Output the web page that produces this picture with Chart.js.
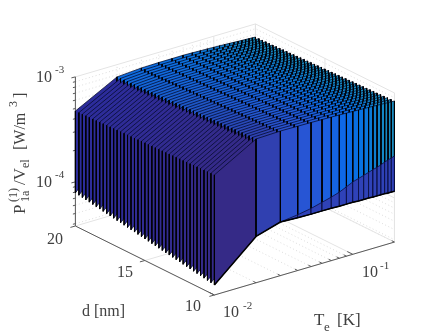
<!DOCTYPE html>
<html>
<head>
<meta charset="utf-8">
<script src="https://cdn.jsdelivr.net/npm/chart.js@4"></script>
<style>
body { margin: 0; background: #fff; overflow: hidden; }
</style>
</head>
<body>
<canvas id="surfaceChart" width="436" height="335"></canvas>
<script>
// Values
const temps = [0.01, 0.02, 0.03, 0.04, 0.05, 0.06, 0.07, 0.08, 0.09, 0.10, 0.11, 0.12, 0.13, 0.14, 0.15, 0.16, 0.17, 0.18, 0.19, 0.20];
const thickness = [10, 10.25, 10.5, 10.75, 11, 11.25, 11.5, 11.75, 12, 12.25, 12.5, 12.75, 13, 13.25, 13.5, 13.75, 14, 14.25, 14.5, 14.75, 15, 15.25, 15.5, 15.75, 16, 16.25, 16.5, 16.75, 17, 17.25, 17.5, 17.75, 18, 18.25, 18.5, 18.75, 19, 19.25, 19.5, 19.75, 20];

// upper edge of each sheet, one row per thickness, in units of 1e-4 W/m3
const upperRows = [
    [5.29, 8.90, 9.05, 9.00, 8.95, 8.90, 8.85, 8.80, 8.76, 8.72, 8.68, 8.64, 8.60, 8.56, 8.52, 8.49, 8.46, 8.43, 8.40, 8.38],
    [5.28, 8.87, 9.02, 8.98, 8.93, 8.88, 8.83, 8.78, 8.74, 8.70, 8.66, 8.62, 8.58, 8.54, 8.50, 8.47, 8.44, 8.41, 8.38, 8.36],
    [5.26, 8.84, 8.99, 8.95, 8.90, 8.86, 8.81, 8.76, 8.72, 8.68, 8.64, 8.60, 8.56, 8.52, 8.48, 8.45, 8.42, 8.39, 8.36, 8.34],
    [5.25, 8.81, 8.97, 8.93, 8.88, 8.83, 8.78, 8.73, 8.69, 8.65, 8.61, 8.57, 8.53, 8.49, 8.45, 8.42, 8.39, 8.36, 8.33, 8.31],
    [5.23, 8.77, 8.94, 8.90, 8.85, 8.81, 8.76, 8.71, 8.67, 8.63, 8.59, 8.55, 8.51, 8.47, 8.43, 8.40, 8.37, 8.34, 8.31, 8.29],
    [5.22, 8.74, 8.91, 8.88, 8.83, 8.79, 8.74, 8.69, 8.65, 8.61, 8.57, 8.53, 8.49, 8.45, 8.41, 8.38, 8.35, 8.32, 8.29, 8.27],
    [5.21, 8.71, 8.88, 8.85, 8.81, 8.77, 8.72, 8.67, 8.63, 8.59, 8.55, 8.51, 8.47, 8.43, 8.39, 8.36, 8.33, 8.30, 8.27, 8.25],
    [5.19, 8.68, 8.86, 8.83, 8.78, 8.75, 8.70, 8.65, 8.61, 8.57, 8.53, 8.49, 8.45, 8.41, 8.37, 8.34, 8.31, 8.28, 8.25, 8.23],
    [5.18, 8.65, 8.83, 8.80, 8.76, 8.72, 8.67, 8.62, 8.58, 8.54, 8.50, 8.46, 8.42, 8.38, 8.34, 8.31, 8.28, 8.25, 8.22, 8.20],
    [5.16, 8.62, 8.80, 8.78, 8.74, 8.70, 8.65, 8.60, 8.56, 8.52, 8.48, 8.44, 8.40, 8.36, 8.32, 8.29, 8.26, 8.23, 8.20, 8.18],
    [5.15, 8.59, 8.77, 8.75, 8.71, 8.68, 8.63, 8.58, 8.54, 8.50, 8.46, 8.42, 8.38, 8.34, 8.30, 8.27, 8.24, 8.21, 8.18, 8.16],
    [5.14, 8.55, 8.74, 8.73, 8.69, 8.66, 8.61, 8.56, 8.52, 8.48, 8.44, 8.40, 8.36, 8.32, 8.28, 8.25, 8.22, 8.19, 8.16, 8.14],
    [5.12, 8.52, 8.72, 8.70, 8.66, 8.64, 8.59, 8.54, 8.50, 8.46, 8.42, 8.38, 8.34, 8.30, 8.26, 8.23, 8.20, 8.17, 8.14, 8.12],
    [5.11, 8.49, 8.69, 8.68, 8.64, 8.61, 8.56, 8.51, 8.47, 8.43, 8.39, 8.35, 8.31, 8.27, 8.23, 8.20, 8.17, 8.14, 8.11, 8.09],
    [5.09, 8.46, 8.66, 8.65, 8.62, 8.59, 8.54, 8.49, 8.45, 8.41, 8.37, 8.33, 8.29, 8.25, 8.21, 8.18, 8.15, 8.12, 8.09, 8.07],
    [5.08, 8.43, 8.63, 8.63, 8.59, 8.57, 8.52, 8.47, 8.43, 8.39, 8.35, 8.31, 8.27, 8.23, 8.19, 8.16, 8.13, 8.10, 8.07, 8.05],
    [5.07, 8.40, 8.60, 8.60, 8.57, 8.55, 8.50, 8.45, 8.41, 8.37, 8.33, 8.29, 8.25, 8.21, 8.17, 8.14, 8.11, 8.08, 8.05, 8.03],
    [5.05, 8.36, 8.58, 8.58, 8.55, 8.53, 8.48, 8.43, 8.39, 8.35, 8.31, 8.27, 8.23, 8.19, 8.15, 8.12, 8.09, 8.06, 8.03, 8.01],
    [5.04, 8.33, 8.55, 8.55, 8.52, 8.50, 8.45, 8.40, 8.36, 8.32, 8.28, 8.24, 8.20, 8.16, 8.12, 8.09, 8.06, 8.03, 8.00, 7.98],
    [5.02, 8.30, 8.52, 8.53, 8.50, 8.48, 8.43, 8.38, 8.34, 8.30, 8.26, 8.22, 8.18, 8.14, 8.10, 8.07, 8.04, 8.01, 7.98, 7.96],
    [5.01, 8.27, 8.49, 8.50, 8.47, 8.46, 8.41, 8.36, 8.32, 8.28, 8.24, 8.20, 8.16, 8.12, 8.08, 8.05, 8.02, 7.99, 7.96, 7.94],
    [5.00, 8.24, 8.47, 8.48, 8.45, 8.44, 8.39, 8.34, 8.30, 8.26, 8.22, 8.18, 8.14, 8.10, 8.06, 8.03, 8.00, 7.97, 7.94, 7.92],
    [4.98, 8.21, 8.44, 8.45, 8.43, 8.42, 8.37, 8.32, 8.28, 8.24, 8.20, 8.16, 8.12, 8.08, 8.04, 8.01, 7.98, 7.95, 7.92, 7.90],
    [4.97, 8.18, 8.41, 8.43, 8.40, 8.39, 8.34, 8.29, 8.25, 8.21, 8.17, 8.13, 8.09, 8.05, 8.01, 7.98, 7.95, 7.92, 7.89, 7.87],
    [4.95, 8.14, 8.38, 8.40, 8.38, 8.37, 8.32, 8.27, 8.23, 8.19, 8.15, 8.11, 8.07, 8.03, 7.99, 7.96, 7.93, 7.90, 7.87, 7.85],
    [4.94, 8.11, 8.35, 8.38, 8.36, 8.35, 8.30, 8.25, 8.21, 8.17, 8.13, 8.09, 8.05, 8.01, 7.97, 7.94, 7.91, 7.88, 7.85, 7.83],
    [4.93, 8.08, 8.33, 8.35, 8.33, 8.33, 8.28, 8.23, 8.19, 8.15, 8.11, 8.07, 8.03, 7.99, 7.95, 7.92, 7.89, 7.86, 7.83, 7.81],
    [4.91, 8.05, 8.30, 8.33, 8.31, 8.31, 8.26, 8.21, 8.17, 8.13, 8.09, 8.05, 8.01, 7.97, 7.93, 7.90, 7.87, 7.84, 7.81, 7.79],
    [4.90, 8.02, 8.27, 8.30, 8.28, 8.28, 8.23, 8.18, 8.14, 8.10, 8.06, 8.02, 7.98, 7.94, 7.90, 7.87, 7.84, 7.81, 7.78, 7.76],
    [4.88, 7.99, 8.24, 8.28, 8.26, 8.26, 8.21, 8.16, 8.12, 8.08, 8.04, 8.00, 7.96, 7.92, 7.88, 7.85, 7.82, 7.79, 7.76, 7.74],
    [4.87, 7.96, 8.22, 8.25, 8.24, 8.24, 8.19, 8.14, 8.10, 8.06, 8.02, 7.98, 7.94, 7.90, 7.86, 7.83, 7.80, 7.77, 7.74, 7.72],
    [4.86, 7.92, 8.19, 8.23, 8.21, 8.22, 8.17, 8.12, 8.08, 8.04, 8.00, 7.96, 7.92, 7.88, 7.84, 7.81, 7.78, 7.75, 7.72, 7.70],
    [4.84, 7.89, 8.16, 8.20, 8.19, 8.20, 8.15, 8.10, 8.06, 8.02, 7.98, 7.94, 7.90, 7.86, 7.82, 7.79, 7.76, 7.73, 7.70, 7.68],
    [4.83, 7.86, 8.13, 8.18, 8.16, 8.17, 8.12, 8.07, 8.03, 7.99, 7.95, 7.91, 7.87, 7.83, 7.79, 7.76, 7.73, 7.70, 7.67, 7.65],
    [4.81, 7.83, 8.10, 8.15, 8.14, 8.15, 8.10, 8.05, 8.01, 7.97, 7.93, 7.89, 7.85, 7.81, 7.77, 7.74, 7.71, 7.68, 7.65, 7.63],
    [4.80, 7.80, 8.08, 8.13, 8.12, 8.13, 8.08, 8.03, 7.99, 7.95, 7.91, 7.87, 7.83, 7.79, 7.75, 7.72, 7.69, 7.66, 7.63, 7.61],
    [4.79, 7.77, 8.05, 8.10, 8.09, 8.11, 8.06, 8.01, 7.97, 7.93, 7.89, 7.85, 7.81, 7.77, 7.73, 7.70, 7.67, 7.64, 7.61, 7.59],
    [4.77, 7.73, 8.02, 8.08, 8.07, 8.09, 8.04, 7.99, 7.95, 7.91, 7.87, 7.83, 7.79, 7.75, 7.71, 7.68, 7.65, 7.62, 7.59, 7.57],
    [4.76, 7.70, 7.99, 8.05, 8.04, 8.06, 8.01, 7.96, 7.92, 7.88, 7.84, 7.80, 7.76, 7.72, 7.68, 7.65, 7.62, 7.59, 7.56, 7.54],
    [4.74, 7.67, 7.97, 8.03, 8.02, 8.04, 7.99, 7.94, 7.90, 7.86, 7.82, 7.78, 7.74, 7.70, 7.66, 7.63, 7.60, 7.57, 7.54, 7.52],
    [4.73, 7.64, 7.94, 8.00, 8.00, 8.02, 7.97, 7.92, 7.88, 7.84, 7.80, 7.76, 7.72, 7.68, 7.64, 7.61, 7.58, 7.55, 7.52, 7.50]
];

// lower edge per thickness at the two coldest temperatures, then along the rest
const lowerColdest = [0.473, 0.479, 0.485, 0.491, 0.498, 0.504, 0.510, 0.517, 0.523, 0.530, 0.537, 0.544, 0.551, 0.558, 0.565, 0.572, 0.579, 0.587, 0.594, 0.602, 0.609, 0.617, 0.625, 0.633, 0.641, 0.649, 0.657, 0.666, 0.674, 0.683, 0.691, 0.700, 0.709, 0.718, 0.727, 0.736, 0.746, 0.755, 0.765, 0.775, 0.785];
const lowerNext = [1.05, 1.07, 1.08, 1.10, 1.12, 1.13, 1.15, 1.17, 1.19, 1.21, 1.22, 1.24, 1.26, 1.28, 1.30, 1.32, 1.34, 1.36, 1.39, 1.41, 1.43, 1.45, 1.47, 1.50, 1.52, 1.54, 1.57, 1.59, 1.62, 1.64, 1.67, 1.69, 1.72, 1.75, 1.78, 1.80, 1.83, 1.86, 1.89, 1.92, 1.95];
const lowerRest = [1.23, 1.21, 1.20, 1.20, 1.20, 1.19, 1.19, 1.19, 1.18, 1.18, 1.18, 1.17, 1.17, 1.17, 1.17, 1.16, 1.16, 1.16];
// darker band on the front sheet, from 0.03 K upward
const frontBand = [1.23, 1.29, 1.36, 1.45, 1.53, 1.62, 1.74, 1.86, 1.93, 2.00, 2.07, 2.14, 2.19, 2.26, 2.34, 2.40, 2.45, 2.51];

// Axis ticks
const powerTicks = [4e-5, 5e-5, 6e-5, 7e-5, 8e-5, 9e-5, 1e-4, 2e-4, 3e-4, 4e-4, 5e-4, 6e-4, 7e-4, 8e-4, 9e-4, 1e-3];
const tempTicks = [0.01, 0.02, 0.03, 0.04, 0.05, 0.06, 0.07, 0.08, 0.09, 0.1, 0.2];
const thicknessTicks = [10, 15, 20];
const powerUnit = 1e-4;
const tMin = 0.01, tMax = 0.2, dMin = 10, dMax = 20, pMin = 3.8e-5, pMax = 1e-3;

// Colours per temperature step
const frontColors = ['#352a87', '#3040b0', '#2b50cc', '#2755d4', '#2358d8', '#1c5fdf', '#1564e3', '#0f68e6', '#0b6be6', '#096fe3', '#0873e0', '#0a77db', '#0c7bd5', '#0e7fd0', '#1083cb', '#1287c6', '#1589c4', '#188bc2', '#1c8dc0'];
const backColors = ['#2c2c9c', '#0e6cde', '#0e6ee0', '#0c70e0', '#0b72de', '#0b74dc', '#0b76d9', '#0c78d6', '#0d7ad3', '#0e7cd0', '#0f7ecd', '#107fca', '#1181c7', '#1283c4', '#1385c1', '#1487be', '#1589bb', '#168bb8', '#178db5'];
const bandColor = '#2f42b8';

// 3D view: log T, d and log P onto the flat x/y scales
function project(t, d, p) {
    const lt = Math.log10(t / tMin);
    const lp = Math.log10(p / pMin);
    return {
        x: 214.4 + 138.4 * lt - 13.9 * (d - dMin),
        y: 295 - 40.7 * lt - 6.9 * (d - dMin) - 105 * lp
    };
}

function mix(a, b, f) {
    const pa = parseInt(a.slice(1), 16), pb = parseInt(b.slice(1), 16);
    const ch = s => Math.round(((pa >> s) & 255) * (1 - f) + ((pb >> s) & 255) * f);
    return `rgb(${ch(16)},${ch(8)},${ch(0)})`;
}

const datasets = [];

function addLine(points, color, width, dash) {
    datasets.push({ data: points, borderColor: color, borderWidth: width, borderDash: dash || [], face: null });
}

function addQuad(points, face, color, width) {
    datasets.push({ data: points.concat([points[0]]), borderColor: color, borderWidth: width, face: face });
}

// Box walls and floor
const dotted = [1, 2.5];
powerTicks.forEach(p => {
    const solid = p === 1e-4 || p === 1e-3;
    const pts = [project(tMin, dMax, p), project(tMax, dMax, p), project(tMax, dMin, p)];
    addLine(pts, solid ? '#e4e4e4' : '#d4d4d4', solid ? 1 : 0.8, solid ? [] : dotted);
});
tempTicks.forEach(t => {
    const solid = t === 0.01 || t === 0.1;
    addLine([project(t, dMin, pMin), project(t, dMax, pMin), project(t, dMax, pMax)], solid ? '#e4e4e4' : '#d4d4d4', solid ? 1 : 0.8, solid ? [] : dotted);
});
[tMax].forEach(t => addLine([project(t, dMin, pMin), project(t, dMax, pMin), project(t, dMax, pMax)], '#e4e4e4', 1));
addLine([project(tMax, dMin, pMin), project(tMax, dMin, pMax)], '#e4e4e4', 1);
thicknessTicks.forEach(d => {
    addLine([project(tMin, d, pMin), project(tMax, d, pMin), project(tMax, d, pMax)], '#e4e4e4', 1);
});

// Axes with their ticks
const axisColor = '#5a5a5a';
addLine([project(tMin, dMax, pMin), project(tMin, dMax, pMax)], axisColor, 1);
addLine([project(tMin, dMax, pMin), project(tMin, dMin, pMin), project(tMax, dMin, pMin)], axisColor, 1);
powerTicks.forEach(p => {
    const long = p === 1e-4 || p === 1e-3;
    const a = project(tMin, dMax, p);
    addLine([a, { x: a.x - (long ? 4 : 2.5), y: a.y + (long ? 1 : 0.6) }], axisColor, 1);
});
tempTicks.forEach(t => {
    const long = t === 0.01 || t === 0.1;
    const a = project(t, dMin, pMin);
    const b = project(t, dMin + (long ? 0.4 : 0.2), pMin);
    addLine([a, b], axisColor, 1);
});
thicknessTicks.forEach(d => {
    const a = project(tMin, d, pMin);
    addLine([a, { x: a.x - 5, y: a.y + 1.4 }], axisColor, 1);
});

// Sheets from the back row to the front one, each hides what is behind it
for (let i = thickness.length - 1; i >= 0; i--) {
    const d = thickness[i];
    const f = i / (thickness.length - 1);
    const lower = j => (j === 0 ? lowerColdest[i] : j === 1 ? lowerNext[i] : lowerRest[j - 2]);
    for (let j = 0; j < temps.length - 1; j++) {
        addQuad([
            project(temps[j], d, upperRows[i][j] * powerUnit),
            project(temps[j + 1], d, upperRows[i][j + 1] * powerUnit),
            project(temps[j + 1], d, lower(j + 1) * powerUnit),
            project(temps[j], d, lower(j) * powerUnit)
        ], mix(frontColors[j], backColors[j], f), '#030a28', 0.75);
    }
    temps.forEach((t, j) => {
        addLine([project(t, d, upperRows[i][j] * powerUnit), project(t, d, lower(j) * powerUnit)], '#000', 0.85);
    });
}
for (let j = 2; j < temps.length - 1; j++) {
    addQuad([
        project(temps[j], thickness[0], frontBand[j - 2] * powerUnit),
        project(temps[j + 1], thickness[0], frontBand[j - 1] * powerUnit),
        project(temps[j + 1], thickness[0], lowerRest[j - 1] * powerUnit),
        project(temps[j], thickness[0], lowerRest[j - 2] * powerUnit)
    ], bandColor, '#0b0f40', 0.8);
}
addLine(temps.map((t, j) => project(t, thickness[0], (j === 0 ? lowerColdest[0] : j === 1 ? lowerNext[0] : lowerRest[j - 2]) * powerUnit)), '#000', 1.5);

// Chart.js paints the first dataset last
datasets.reverse();

const faceFill = {
    id: 'faceFill',
    beforeDatasetDraw(chart, args) {
        const face = chart.data.datasets[args.index].face;
        if (!face) return;
        const pts = args.meta.data;
        const ctx = chart.ctx;
        ctx.beginPath();
        pts.forEach((p, k) => (k ? ctx.lineTo(p.x, p.y) : ctx.moveTo(p.x, p.y)));
        ctx.closePath();
        ctx.fillStyle = face;
        ctx.fill();
    }
};

function put(ctx, text, x, y, size) {
    ctx.font = size + 'px "Liberation Serif"';
    ctx.fillText(text, x, y);
}

const axisText = {
    id: 'axisText',
    afterDraw(chart) {
        const ctx = chart.ctx;
        ctx.save();
        ctx.fillStyle = '#404040';
        ctx.textBaseline = 'alphabetic';
        // power ticks
        put(ctx, '10', 36, 82, 16); put(ctx, '-3', 55, 73, 11);
        put(ctx, '10', 36, 187, 16); put(ctx, '-4', 55, 178, 11);
        // thickness ticks
        put(ctx, '20', 47, 244, 16);
        put(ctx, '15', 117, 277, 16);
        put(ctx, '10', 185, 311, 16);
        put(ctx, 'd [nm]', 82, 316, 16);
        // temperature ticks
        put(ctx, '10', 223, 317, 16); put(ctx, '-2', 243, 309, 11);
        put(ctx, '10', 362, 277, 16); put(ctx, '-1', 380, 269, 11);
        put(ctx, 'T', 314, 325, 17); put(ctx, 'e', 324, 331, 13); put(ctx, '[K]', 337, 325, 17);
        // rotated power label
        ctx.translate(25, 0);
        ctx.rotate(-Math.PI / 2);
        put(ctx, 'P', -214, 0, 17);
        put(ctx, '(1)', -202, -8, 12);
        put(ctx, '1a', -202, 4, 12);
        put(ctx, '/V', -185, 0, 17);
        put(ctx, 'el', -168, 4, 12);
        put(ctx, '[W/m', -150, 0, 16);
        put(ctx, '3', -107, -8, 12);
        put(ctx, ']', -98, 0, 16);
        ctx.restore();
    }
};

new Chart(document.getElementById('surfaceChart'), {
    type: 'scatter',
    data: { datasets: datasets },
    plugins: [faceFill, axisText],
    options: {
        responsive: false,
        animation: false,
        layout: { padding: 0 },
        elements: { point: { radius: 0 }, line: { tension: 0, borderJoinStyle: 'round' } },
        datasets: { scatter: { showLine: true, clip: false } },
        plugins: { legend: { display: false }, tooltip: { enabled: false } },
        scales: {
            x: { type: 'linear', min: 0, max: 436, display: false },
            y: { type: 'linear', min: 0, max: 335, reverse: true, display: false }
        }
    }
});
</script>
</body>
</html>
